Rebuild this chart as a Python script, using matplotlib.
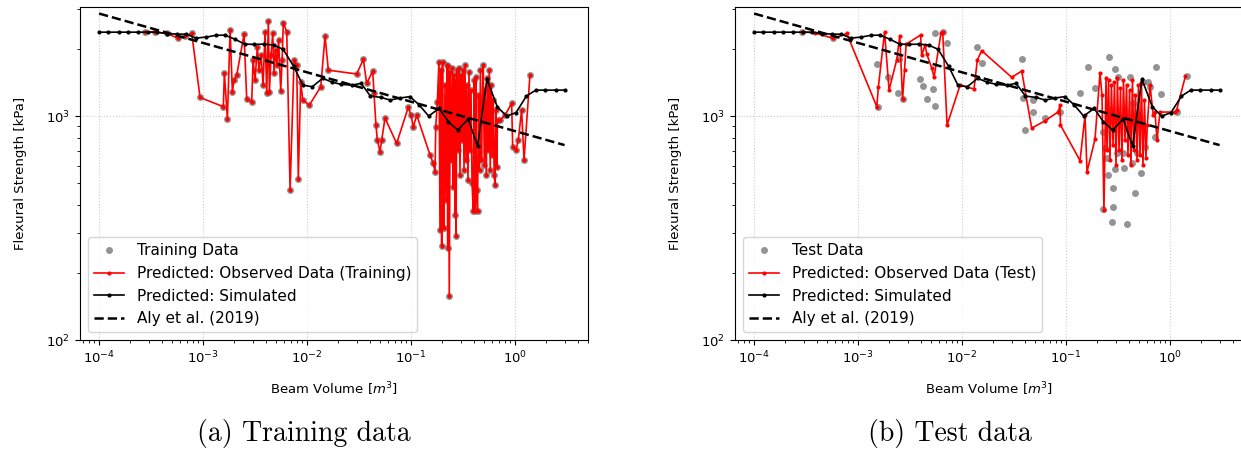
import numpy as np
import matplotlib
matplotlib.use("Agg")
from matplotlib import pyplot as plt

# --- values (log10 units where noted) ---

# simulated prediction curve, log10 of beam volume [m^3] and strength [kPa]
sim_log_vol = [-4.00, -3.91, -3.81, -3.72, -3.63, -3.53, -3.44, -3.35, -3.25, -3.16,
               -3.07, -2.97, -2.88, -2.79, -2.69, -2.60, -2.51, -2.41, -2.32, -2.23,
               -2.13, -2.04, -1.95, -1.85, -1.76, -1.67, -1.57, -1.48, -1.39, -1.29,
               -1.20, -1.11, -1.01, -0.92, -0.83, -0.73, -0.64, -0.55, -0.45, -0.36,
               -0.27, -0.17, -0.08, 0.01, 0.11, 0.20, 0.29, 0.39, 0.48]
sim_fs = [2370, 2370, 2370, 2370, 2370, 2370, 2370, 2335, 2323, 2320,
          2230, 2253, 2293, 2300, 2200, 2096, 2090, 2096, 2075, 1986,
          1672, 1375, 1352, 1474, 1418, 1385, 1375, 1400, 1228, 1212,
          1179, 1203, 1222, 1120, 1000, 1082, 943, 866, 970, 735,
          1463, 1100, 1000, 1036, 1228, 1306, 1306, 1306, 1306]

# Aly et al. (2019) power law, end points
aly_vol = [1e-4, 3.0]
aly_fs = [2870, 742]

# training data (observed == predicted), log10 values
train_log_vol = [-3.558, -3.462, -3.349, -3.238, -3.173, -3.109, -3.029, -2.805, -2.795, -2.766,
                 -2.740, -2.718, -2.702, -2.676, -2.606, -2.580, -2.532, -2.519, -2.500, -2.478,
                 -2.462, -2.442, -2.423, -2.404, -2.388, -2.372, -2.362, -2.346, -2.330, -2.317,
                 -2.303, -2.288, -2.274, -2.253, -2.240, -2.228, -2.195, -2.163, -2.125, -2.099,
                 -2.084, -2.061, -2.041, -1.978, -1.868, -1.827, -1.795, -1.522, -1.459, -1.426,
                 -1.368, -1.356, -1.337, -1.324, -1.298, -1.282, -1.250, -1.138, -1.026, -1.000,
                 -0.978, -0.945, -0.817, -0.786, -0.769, -0.762, -0.747,
                 -0.731, -0.721, -0.712, -0.705, -0.697, -0.688, -0.683, -0.673, -0.663, -0.654,
                 -0.647, -0.641, -0.632, -0.622, -0.611, -0.601, -0.593, -0.585, -0.577, -0.570,
                 -0.567, -0.558, -0.548, -0.538, -0.529, -0.519, -0.510, -0.500, -0.490, -0.481,
                 -0.471, -0.462, -0.452, -0.442, -0.433, -0.423, -0.413, -0.401, -0.394, -0.385,
                 -0.378, -0.370, -0.360, -0.351, -0.341, -0.332, -0.322, -0.313, -0.305, -0.295,
                 -0.286, -0.276, -0.266, -0.257, -0.247, -0.238, -0.228, -0.218, -0.209, -0.200,
                 -0.192, -0.185, -0.176, -0.168,
                 -0.144, -0.096, -0.032, -0.022, 0.010, 0.032, 0.064, 0.087, 0.144]
train_log_fs = [3.376, 3.375, 3.369, 3.347, 3.357, 3.369, 3.083, 3.042, 3.193, 2.987,
                3.386, 3.108, 3.161, 3.183, 3.365, 3.075, 3.064, 3.250, 3.161, 3.309,
                3.205, 3.272, 3.138, 3.376, 3.101, 3.425, 3.108, 3.272, 3.369, 3.191,
                3.295, 3.228, 3.339, 3.112, 3.250, 3.417, 3.376, 2.670, 3.250, 3.228,
                2.719, 3.153, 3.071, 3.049, 3.131, 3.357, 3.205, 3.188, 3.253, 3.146,
                3.201, 3.101, 2.960, 2.893, 2.841, 2.893, 2.991, 2.878, 3.040, 3.004,
                2.952, 3.004, 2.826, 2.789, 2.751, 2.952, 3.064,
                3.241, 2.491, 3.205, 2.420, 3.241, 2.714, 2.500, 3.138, 2.625, 3.228,
                2.411, 3.223, 2.196, 3.196, 2.804, 3.214, 2.683, 3.183, 2.558, 3.161,
                2.464, 3.205, 2.848, 3.214, 2.737, 3.183, 2.893, 3.205, 2.759, 3.228,
                2.804, 3.138, 2.714, 3.196, 2.848, 3.116, 2.701, 2.576, 3.161, 2.576,
                3.174, 2.670, 2.576, 3.094, 2.759, 3.205, 2.804, 3.071, 3.228, 2.781,
                3.116, 2.737, 3.169, 2.848, 3.205, 2.759, 3.138, 2.826, 3.071, 2.737,
                2.692, 3.027, 2.774, 2.982,
                2.982, 3.004, 3.057, 2.863, 2.848, 2.893, 3.027, 2.804, 3.183]

# test data, predicted (red line), log10 values
test_pred_log_vol = [-3.541, -3.413, -3.238, -3.109,
                     -2.820, -2.805, -2.745, -2.702, -2.628, -2.599, -2.572, -2.553, -2.538,
                     -2.399, -2.388, -2.356, -2.339, -2.291, -2.269, -2.202, -2.186, -2.144,
                     -2.019, -1.885, -1.853, -1.811,
                     -1.522, -1.426, -1.330, -1.202, -1.074, -1.058, -1.053, -0.865, -0.817,
                     -0.798, -0.721, -0.673, -0.654, -0.635,
                     -0.615, -0.606, -0.591, -0.577, -0.563, -0.548, -0.534, -0.519, -0.505,
                     -0.490, -0.476, -0.462, -0.447, -0.433, -0.418, -0.404, -0.389, -0.375,
                     -0.361, -0.346, -0.332, -0.317, -0.303, -0.288, -0.274, -0.260, -0.245,
                     -0.231, -0.218,
                     -0.192, -0.161, -0.144, -0.125, -0.096, 0.048, 0.064, 0.149]
test_pred_log_fs = [3.376, 3.371, 3.347, 3.369,
                    3.042, 3.129, 3.376, 3.116, 3.252, 3.359, 3.076, 3.205, 3.321,
                    3.362, 3.272, 3.317, 3.277, 3.214, 3.174, 3.373, 3.376, 2.960,
                    3.138, 3.121, 3.250, 3.292,
                    3.173, 3.201, 2.946, 2.979, 3.019, 3.049, 2.960, 2.801, 3.004,
                    2.751, 2.897, 3.191, 3.094, 2.580,
                    3.170, 2.848, 3.161, 2.804, 3.138, 2.871, 3.152, 2.781, 3.170,
                    2.848, 3.125, 2.804, 3.161, 2.893, 3.138, 2.826, 3.116, 2.781,
                    3.161, 2.848, 3.094, 2.804, 3.138, 2.826, 3.147, 2.781, 3.071,
                    2.813, 2.960,
                    3.138, 3.004, 3.018, 2.893, 3.018, 3.018, 3.027, 3.179]

# test data, observed (grey dots), log10 values
test_log_vol = [-3.541, -3.238, -2.822, -2.808, -2.709, -2.613, -2.603, -2.572, -2.404, -2.380,
                -2.334, -2.279, -2.260, -2.260, -2.183, -2.144, -1.853, -1.808, -1.423, -1.413,
                -1.394, -1.320, -1.314, -1.202, -1.058, -0.865, -0.793, -0.721, -0.641, -0.625,
                -0.609, -0.584, -0.529, -0.497, -0.385, -0.353, -0.593, -0.529, -0.442, -0.363,
                -0.279, -0.545, -0.341, -0.641, -0.545, -0.561, -0.413, -0.513, -0.449, -0.320,
                -0.240, -0.257, -0.212, -0.192, -0.130, -0.087, -0.144, 0.064, 0.159,
                -0.481, -0.404, -0.308, -0.577]
test_log_fs = [3.376, 3.347, 3.232, 3.042, 3.175, 3.103, 3.254, 3.075, 3.164, 3.135,
               3.075, 3.123, 3.370, 3.046, 3.376, 3.325, 3.308, 3.239, 3.253, 3.082,
               2.938, 3.074, 3.019, 2.990, 3.019, 3.104, 3.220, 3.124, 2.930, 2.856,
               2.811, 3.262, 3.212, 3.175, 3.175, 3.057, 2.737, 2.763, 2.767, 2.789,
               2.746, 2.677, 2.658, 2.583, 2.596, 2.528, 2.516, 2.833, 2.833, 2.833,
               2.863, 3.153, 3.153, 3.131, 3.220, 3.097, 2.908, 3.020, 3.179,
               2.982, 2.938, 3.004, 3.027]

sim_vol = 10.0 ** np.array(sim_log_vol)


def draw(ax, obs_v, obs_f, pred_v, pred_f, obs_label, pred_label):
    obs_v = 10.0 ** np.array(obs_v)
    obs_f = 10.0 ** np.array(obs_f)
    pred_v = 10.0 ** np.array(pred_v)
    pred_f = 10.0 ** np.array(pred_f)
    ax.plot(obs_v, obs_f, 'o', color='gray', ms=5, mew=0, alpha=0.85, label=obs_label)
    ax.plot(pred_v, pred_f, '.-', color='red', lw=1.2, ms=4, label=pred_label)
    ax.plot(sim_vol, sim_fs, '.-', color='black', lw=1.2, ms=4, label='Predicted: Simulated')
    ax.plot(aly_vol, aly_fs, '--', color='black', lw=1.8, label='Aly et al. (2019)')
    ax.set_xscale('log')
    ax.set_yscale('log')
    ax.set_xlim(6.55e-5, 5.04)
    ax.set_ylim(100, 3070)
    ax.grid(True, which='major', linestyle=':', color='0.8', lw=0.8)
    ax.tick_params(labelsize=9.5)
    ax.set_xlabel('Beam Volume [$m^3$]', fontsize=9.5)
    ax.set_ylabel('Flexural Strength [kPa]', fontsize=9.5)
    ax.xaxis.set_label_coords(0.5, -0.123)
    ax.yaxis.set_label_coords(-0.105, 0.5)
    ax.legend(loc='lower left', fontsize=11, numpoints=1)


fig = plt.figure(figsize=(12.41, 4.62), dpi=100)
ax1 = fig.add_axes([80 / 1241, 122 / 462, 508 / 1241, 333 / 462])
ax2 = fig.add_axes([735 / 1241, 122 / 462, 508 / 1241, 333 / 462])

draw(ax1, train_log_vol, train_log_fs, train_log_vol, train_log_fs,
     'Training Data', 'Predicted: Observed Data (Training)')
draw(ax2, test_log_vol, test_log_fs, test_pred_log_vol, test_pred_log_fs,
     'Test Data', 'Predicted: Observed Data (Test)')

fig.text(304 / 1241, 1 - 433 / 462, '(a) Training data', family='cmr10',
         fontsize=20, ha='center', va='center')
fig.text(950 / 1241, 1 - 433 / 462, '(b) Test data', family='cmr10',
         fontsize=20, ha='center', va='center')

fig.savefig('out.png', dpi=100)
